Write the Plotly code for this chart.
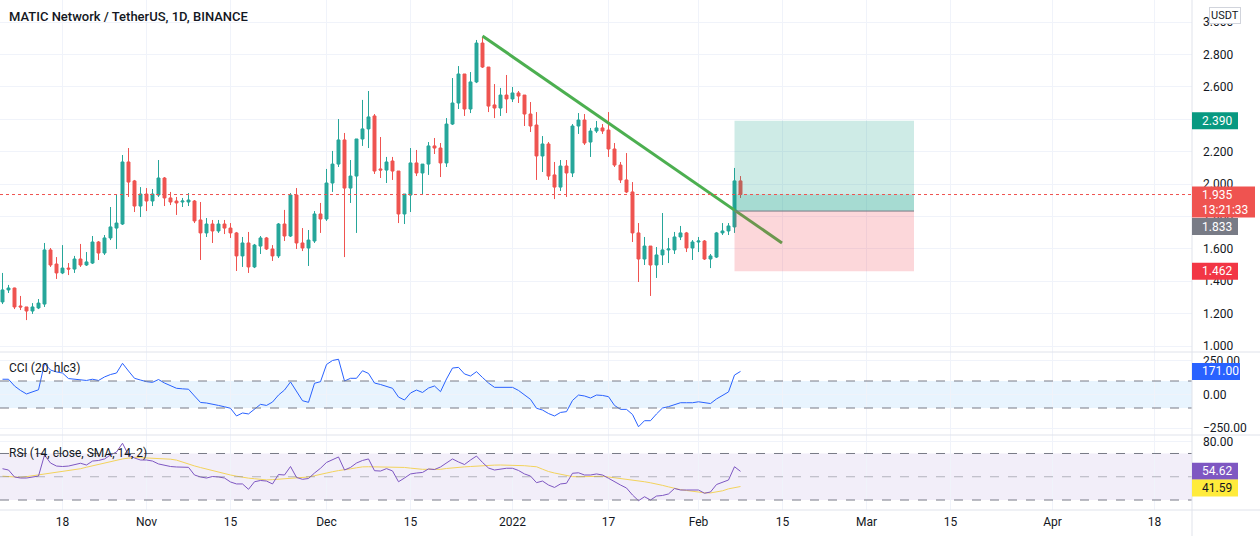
import pandas as pd
import plotly.graph_objects as go

# ---------------- data ----------------
START_DATE = "2021-10-08"

open_ = [1.272,1.346,1.358,1.247,1.241,1.216,1.235,1.259,1.593,1.506,
         1.451,1.481,1.475,1.537,1.500,1.512,1.642,1.574,1.667,1.728,
         1.753,2.136,2.019,1.864,1.938,1.895,1.932,2.037,1.914,1.895,
         1.889,1.889,1.895,1.778,1.698,1.753,1.710,1.753,1.728,1.698,
         1.556,1.636,1.488,1.617,1.667,1.599,1.556,1.753,1.679,1.932,
         1.636,1.605,1.648,1.815,1.784,2.006,2.123,2.272,1.975,2.049,
         2.278,2.340,2.420,2.093,2.086,2.142,2.080,1.815,1.932,2.130,
         2.068,2.123,2.235,2.222,2.130,2.370,2.500,2.679,2.463,2.630,
         2.870,2.722,2.488,2.469,2.549,2.525,2.562,2.549,2.432,2.364,
         2.173,2.247,2.056,1.981,2.111,2.068,2.358,2.395,2.259,2.327,
         2.346,2.333,2.216,2.117,2.025,1.951,1.698,1.537,1.617,1.500,
         1.562,1.593,1.593,1.673,1.698,1.605,1.642,1.648,1.537,1.549,
         1.698,1.710,1.735,2.019]
high_ = [1.451,1.377,1.360,1.309,1.241,1.265,1.290,1.636,1.605,1.549,
         1.623,1.512,1.556,1.630,1.580,1.679,1.648,1.685,1.858,1.938,
         2.179,2.222,2.025,1.981,1.975,1.969,2.148,2.043,1.951,1.920,
         1.914,1.944,1.901,1.889,1.790,1.778,1.778,1.778,1.759,1.704,
         1.673,1.704,1.630,1.679,1.673,1.623,1.759,1.840,1.944,1.975,
         1.728,1.716,1.833,1.883,2.093,2.204,2.401,2.315,2.148,2.278,
         2.519,2.574,2.432,2.290,2.167,2.167,2.080,1.938,2.222,2.210,
         2.123,2.259,2.284,2.253,2.407,2.654,2.728,2.679,2.691,2.889,
         2.907,2.722,2.617,2.593,2.673,2.599,2.574,2.549,2.506,2.444,
         2.296,2.259,2.136,2.148,2.148,2.370,2.438,2.432,2.346,2.389,
         2.370,2.444,2.253,2.136,2.191,2.012,1.759,1.673,1.617,1.611,
         1.821,1.667,1.704,1.741,1.704,1.654,1.673,1.654,1.568,1.704,
         1.759,1.759,2.099,2.049]
low_ = [1.259,1.327,1.228,1.222,1.160,1.198,1.228,1.241,1.488,1.414,
        1.444,1.438,1.451,1.488,1.494,1.506,1.531,1.562,1.654,1.599,
        1.747,1.920,1.827,1.796,1.833,1.864,1.920,1.864,1.870,1.809,
        1.858,1.864,1.759,1.531,1.673,1.636,1.698,1.691,1.667,1.463,
        1.488,1.451,1.481,1.568,1.593,1.525,1.543,1.648,1.673,1.599,
        1.586,1.494,1.636,1.698,1.772,1.951,2.105,1.549,1.883,1.698,
        2.235,2.222,2.062,2.037,2.006,2.025,1.759,1.753,1.827,2.049,
        1.938,2.056,2.185,2.043,2.105,2.364,2.463,2.420,2.438,2.623,
        2.716,2.444,2.407,2.420,2.438,2.506,2.500,2.358,2.321,2.025,
        2.074,2.025,1.907,1.957,1.920,2.043,2.309,2.241,2.167,2.315,
        2.309,2.167,2.105,2.006,1.944,1.642,1.395,1.500,1.309,1.420,
        1.500,1.512,1.568,1.654,1.580,1.531,1.580,1.531,1.481,1.543,
        1.685,1.685,1.698,1.914]
close_ = [1.346,1.358,1.241,1.241,1.216,1.241,1.265,1.593,1.500,1.451,
          1.481,1.475,1.537,1.500,1.519,1.642,1.574,1.667,1.735,1.759,
          2.136,2.012,1.864,1.938,1.895,1.938,2.037,1.914,1.889,1.883,
          1.895,1.901,1.772,1.698,1.753,1.710,1.753,1.728,1.698,1.556,
          1.636,1.488,1.623,1.667,1.599,1.556,1.753,1.679,1.932,1.636,
          1.605,1.654,1.815,1.784,2.006,2.123,2.272,1.975,2.049,2.278,
          2.340,2.414,2.080,2.086,2.136,2.080,1.815,1.938,2.130,2.068,
          2.123,2.235,2.222,2.130,2.370,2.500,2.679,2.463,2.630,2.870,
          2.722,2.481,2.469,2.549,2.525,2.562,2.543,2.432,2.358,2.173,
          2.247,2.049,1.981,2.111,2.068,2.358,2.395,2.253,2.327,2.346,
          2.327,2.216,2.117,2.025,1.951,1.698,1.537,1.617,1.500,1.562,
          1.593,1.599,1.673,1.698,1.605,1.642,1.648,1.537,1.556,1.698,
          1.710,1.741,2.019,1.935]

cci = [113,113,63,30,4,22,35,230,181,167,
       159,118,113,107,104,113,104,130,148,159,
       231,174,120,107,95,90,111,85,67,46,
       42,39,-11,-59,-63,-70,-81,-91,-102,-159,
       -137,-144,-107,-73,-81,-56,-4,33,93,19,
       -46,-58,83,95,222,252,261,100,120,120,
       176,156,85,74,59,46,-19,-41,11,33,
       15,48,63,21,115,196,201,152,137,169,
       126,85,53,53,53,53,30,0,-36,-102,
       -115,-141,-159,-133,-127,-44,-4,-11,-26,-4,
       -7,-16,-81,-110,-110,-148,-239,-194,-194,-144,
       -100,-90,-73,-61,-61,-61,-54,-63,-67,-33,
       -4,19,144,171]

rsi = [56.9,55.8,49.8,48.9,48.9,50.0,50.6,68.7,61.8,59.2,
       58.8,59.2,60.1,61.6,60.1,63.5,64.0,65.3,68.7,71.3,
       78.8,68.7,66.1,64.4,64.4,63.5,61.0,59.7,58.8,58.4,
       58.4,58.1,51.5,49.8,48.9,50.2,49.8,48.9,45.5,43.8,
       43.8,39.2,45.7,46.8,46.3,43.8,51.9,51.5,58.8,49.4,
       47.8,48.5,53.2,57.3,62.3,64.8,67.0,55.8,58.0,61.8,
       64.0,65.3,55.2,54.9,57.0,55.0,45.7,48.9,52.4,53.2,
       53.7,56.7,56.2,58.4,62.1,65.3,62.7,60.5,64.4,67.8,
       62.3,57.5,55.8,56.7,57.3,57.3,55.4,52.4,50.6,44.9,
       46.3,42.9,40.8,43.8,44.4,53.0,53.4,51.5,51.5,52.4,
       51.5,48.7,45.5,42.9,40.3,34.3,29.4,32.8,30.0,33.4,
       33.9,35.2,39.9,38.6,38.6,38.8,38.6,35.8,36.9,43.3,
       45.5,47.2,58.6,54.62]

rsi_ma = [50.5,50.1,49.7,49.5,50.1,50.8,51.5,52.4,53.3,54.2,
          54.8,55.5,56.1,56.9,58.2,59.4,60.6,61.9,63.3,64.5,
          65.3,66.0,66.7,66.4,66.2,65.9,65.7,65.4,65.1,64.3,
          62.5,60.6,59.3,57.9,56.5,55.3,54.0,52.7,51.5,50.5,
          49.5,48.8,48.3,47.8,47.3,47.5,47.9,48.4,48.9,49.1,
          49.3,49.8,50.9,52.2,53.1,54.3,55.3,55.8,56.8,57.7,
          58.5,58.6,58.6,58.6,58.5,58.3,58.1,58.0,57.4,56.8,
          56.4,56.4,56.4,56.4,57.1,57.7,58.1,58.5,58.8,59.2,
          59.4,59.7,60.0,60.1,60.1,60.1,60.0,59.5,59.0,58.6,
          56.5,54.5,53.2,52.2,51.2,50.1,50.0,50.2,50.3,50.5,
          50.4,49.8,49.2,48.6,47.9,47.2,46.6,45.7,44.8,43.9,
          42.6,41.3,39.9,38.9,38.2,37.5,36.9,36.2,36.1,36.8,
          37.9,39.6,40.6,41.59]

X_TICK_DATES = ["2021-10-18", "2021-11-01", "2021-11-15", "2021-12-01", "2021-12-15",
                "2022-01-01", "2022-01-17", "2022-02-01", "2022-02-15", "2022-03-01",
                "2022-03-15", "2022-04-01", "2022-04-18"]
X_TICK_LABELS = ["18", "Nov", "15", "Dec", "15", "2022", "17", "Feb", "15", "Mar", "15", "Apr", "18"]
PRICE_TICKS = [1.0, 1.2, 1.4, 1.6, 1.8, 2.0, 2.2, 2.4, 2.6, 2.8, 3.0]
CCI_TICKS = [-250, 0, 250]
CCI_TICK_LABELS = ["\u2212250.00", "0.00", "250.00"]
RSI_TICKS = [80]
RSI_TICK_LABELS = ["80.00"]

# drawings
TREND_START = ("2021-12-27", 2.914)
TREND_END = ("2022-02-14 22:00", 1.636)
POS_START = "2022-02-07"
POS_END = "2022-03-08 22:00"
TARGET, ENTRY, STOP = 2.390, 1.833, 1.462
LAST_PRICE = 1.935
COUNTDOWN = "13:21:33"
CCI_BAND = (-100, 100)
RSI_BANDS = (30, 50, 70)

# ---------------- figure ----------------
dates = pd.date_range(START_DATE, periods=len(close_), freq="D")
FONT = "Roboto, 'Open Sans', sans-serif"
TXT = "#131722"
GRID = "#F0F3FA"
SEP = "#E0E3EB"

fig = go.Figure()
fig.add_trace(go.Candlestick(
    x=dates, open=open_, high=high_, low=low_, close=close_, xaxis="x", yaxis="y",
    increasing=dict(line=dict(color="#26A69A", width=1), fillcolor="#26A69A"),
    decreasing=dict(line=dict(color="#EF5350", width=1), fillcolor="#EF5350"),
    whiskerwidth=0, hoverinfo="skip", showlegend=False))
fig.add_trace(go.Scatter(x=dates, y=cci, xaxis="x2", yaxis="y2", mode="lines",
                         line=dict(color="#2962FF", width=1), hoverinfo="skip", showlegend=False))
fig.add_trace(go.Scatter(x=dates, y=rsi_ma, xaxis="x3", yaxis="y3", mode="lines",
                         line=dict(color="#F2D35C", width=1), hoverinfo="skip", showlegend=False))
fig.add_trace(go.Scatter(x=dates, y=rsi, xaxis="x3", yaxis="y3", mode="lines",
                         line=dict(color="#7E57C2", width=1), hoverinfo="skip", showlegend=False))

PLOT_H = 510
D_PRICE = [(PLOT_H - 352) / PLOT_H, 1]
D_CCI = [(PLOT_H - 435) / PLOT_H, (PLOT_H - 352) / PLOT_H]
D_RSI = [0, (PLOT_H - 435) / PLOT_H]
X_RANGE = ["2021-10-07 14:00", "2022-04-24 06:00"]

xcommon = dict(type="date", range=X_RANGE, showgrid=True, gridcolor=GRID, gridwidth=1,
               tickmode="array", tickvals=X_TICK_DATES, ticktext=X_TICK_LABELS,
               zeroline=False, showline=False, ticks="", fixedrange=True, automargin=False,
               tickfont=dict(family=FONT, size=12, color=TXT))
ycommon = dict(side="right", showgrid=True, gridcolor=GRID, gridwidth=1, zeroline=False,
               showline=False, ticks="", tickmode="array", ticklabelstandoff=10, automargin=False,
               tickfont=dict(family=FONT, size=12, color=TXT), fixedrange=True)

fig.update_layout(
    width=1260, height=536, margin=dict(l=0, r=68, t=0, b=26),
    paper_bgcolor="white", plot_bgcolor="white", showlegend=False,
    xaxis=dict(**xcommon, anchor="y", showticklabels=False, rangeslider=dict(visible=False)),
    xaxis2=dict(**xcommon, anchor="y2", matches="x", showticklabels=False),
    xaxis3=dict(**xcommon, anchor="y3", matches="x", showticklabels=True, ticklabelstandoff=3),
    yaxis=dict(**ycommon, anchor="x", domain=D_PRICE, range=[0.963, 3.1358],
               tickvals=PRICE_TICKS, ticktext=[f"{v:.3f}" for v in PRICE_TICKS]),
    yaxis2=dict(**ycommon, anchor="x2", domain=D_CCI, range=[-300, 314.8],
                tickvals=CCI_TICKS, ticktext=CCI_TICK_LABELS),
    yaxis3=dict(**ycommon, anchor="x3", domain=D_RSI, range=[21.4, 85.9],
                tickvals=RSI_TICKS, ticktext=RSI_TICK_LABELS),
)

shapes = []
# indicator bands
shapes.append(dict(type="rect", xref="x2 domain", x0=0, x1=1, yref="y2", y0=CCI_BAND[0], y1=CCI_BAND[1],
                   fillcolor="rgba(33,150,243,0.10)", line=dict(width=0), layer="below"))
for v in CCI_BAND:
    shapes.append(dict(type="line", xref="x2 domain", x0=0, x1=1, yref="y2", y0=v, y1=v,
                       line=dict(color="#787B86", width=1, dash="dash"), layer="above"))
shapes.append(dict(type="rect", xref="x3 domain", x0=0, x1=1, yref="y3", y0=RSI_BANDS[0], y1=RSI_BANDS[2],
                   fillcolor="rgba(126,87,194,0.10)", line=dict(width=0), layer="below"))
for v in RSI_BANDS:
    shapes.append(dict(type="line", xref="x3 domain", x0=0, x1=1, yref="y3", y0=v, y1=v,
                       line=dict(color="rgba(120,123,134,0.5)" if v == 50 else "#787B86", width=1, dash="dash"),
                       layer="above"))
# trend line
shapes.append(dict(type="line", xref="x", yref="y", x0=TREND_START[0], y0=TREND_START[1],
                   x1=TREND_END[0], y1=TREND_END[1], line=dict(color="#4CAF50", width=3), layer="above"))
# long position tool
shapes.append(dict(type="rect", xref="x", yref="y", x0=POS_START, x1=POS_END, y0=ENTRY, y1=TARGET,
                   fillcolor="rgba(8,153,129,0.20)", line=dict(width=0), layer="above"))
shapes.append(dict(type="rect", xref="x", yref="y", x0=POS_START, x1=POS_END, y0=ENTRY, y1=LAST_PRICE,
                   fillcolor="rgba(8,153,129,0.20)", line=dict(width=0), layer="above"))
shapes.append(dict(type="rect", xref="x", yref="y", x0=POS_START, x1=POS_END, y0=STOP, y1=ENTRY,
                   fillcolor="rgba(242,54,69,0.20)", line=dict(width=0), layer="above"))
shapes.append(dict(type="line", xref="x", yref="y", x0=POS_START, x1=POS_END, y0=ENTRY, y1=ENTRY,
                   line=dict(color="#787B86", width=1), layer="above"))
# last price dotted line
shapes.append(dict(type="line", xref="x domain", x0=0, x1=1, yref="y", y0=LAST_PRICE, y1=LAST_PRICE,
                   line=dict(color="#EF5350", width=1, dash="dot"), layer="above"))
# pane separators and axis border
for yp in (D_PRICE[0], D_CCI[0], 0):
    shapes.append(dict(type="line", xref="paper", yref="paper", x0=0, x1=1260 / 1192, y0=yp, y1=yp,
                       line=dict(color=SEP, width=1), layer="above"))
shapes.append(dict(type="line", xref="paper", yref="paper", x0=1, x1=1, y0=-26 / PLOT_H, y1=1,
                   line=dict(color=SEP, width=1), layer="above"))

annotations = []


def tag(yref, yval, lines, bg, fg, w=46, h=17, dy=0.0):
    shapes.append(dict(type="rect", xref="paper", xsizemode="pixel", xanchor=1, x0=0, x1=w,
                       yref=yref, ysizemode="pixel", yanchor=yval, y0=dy - h / 2, y1=dy + h / 2,
                       fillcolor=bg, line=dict(width=0), layer="above"))
    for k, t in enumerate(lines):
        annotations.append(dict(xref="paper", x=1, xanchor="left", xshift=8, yref=yref, y=yval,
                                yanchor="middle", yshift=dy + (h / 2 - 8.5) - 15 * k, text=t,
                                showarrow=False, font=dict(family=FONT, size=12, color=fg)))


tag("y", TARGET, [f"{TARGET:.3f}"], "#089981", "white")
tag("y", LAST_PRICE, [f"{LAST_PRICE:.3f}", COUNTDOWN], "#EF5350", "white", w=63, h=31, dy=-7.5)
tag("y", ENTRY, [f"{ENTRY:.3f}"], "#787B86", "white", dy=-15.5)
tag("y", STOP, [f"{STOP:.3f}"], "#F23645", "white")
tag("y2", cci[-1], [f"{cci[-1]:.2f}"], "#2962FF", "white", w=48)
tag("y3", rsi[-1], [f"{rsi[-1]:.2f}"], "#7E57C2", "white")
tag("y3", rsi_ma[-1], [f"{rsi_ma[-1]:.2f}"], "#FFEB3B", TXT, dy=-1.5)

annotations.append(dict(xref="paper", yref="paper", x=1, y=1, xanchor="left", yanchor="top",
                        xshift=17, yshift=-7, text="USDT", showarrow=False,
                        font=dict(family=FONT, size=11, color=TXT), bgcolor="white",
                        bordercolor="#D1D4DC", borderwidth=1, borderpad=1))
annotations.append(dict(xref="paper", yref="paper", x=0, y=1, xanchor="left", yanchor="middle",
                        xshift=7, yshift=-16, text="MATIC Network / TetherUS, 1D, BINANCE",
                        showarrow=False, font=dict(family=FONT, size=13, color=TXT, weight=500)))
annotations.append(dict(xref="paper", yref="y2 domain", x=0, y=1, xanchor="left", yanchor="middle",
                        xshift=7, yshift=-15.5, text="CCI (20, hlc3)", showarrow=False,
                        font=dict(family=FONT, size=12, color=TXT)))
annotations.append(dict(xref="paper", yref="y3 domain", x=0, y=1, xanchor="left", yanchor="middle",
                        xshift=7, yshift=-17.5, text="RSI (14, close, SMA, 14, 2)", showarrow=False,
                        font=dict(family=FONT, size=12, color=TXT)))

fig.update_layout(shapes=shapes, annotations=annotations)
# remove the browser's default 8px page margin so the figure sits at the window's corner
fig.write_html("out.html", config={"displayModeBar": False},
               post_script="document.body.style.margin='0px';")
